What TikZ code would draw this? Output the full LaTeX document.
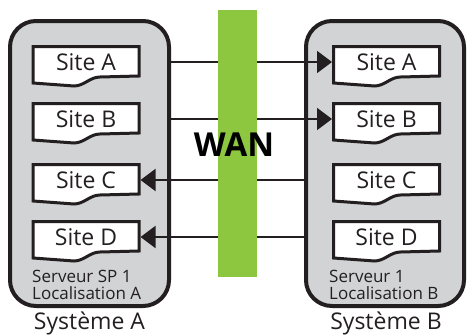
\documentclass[tikz,border=0pt]{standalone}
\usepackage{fontspec}
\setmainfont{Open Sans}
\usetikzlibrary{arrows.meta}

\definecolor{ink}{HTML}{231F20}
\definecolor{servergray}{HTML}{D1D3D4}
\definecolor{wangreen}{HTML}{8DC63F}

\begin{document}
\begin{tikzpicture}[x=1pt, y=-1pt,
    server/.style={draw=ink, line width=4pt, fill=servergray, rounded corners=26pt, minimum height=285pt},
    doc/.style={draw=ink, line width=3pt, fill=white},
    site/.style={minimum width=106pt, minimum height=29.5pt, inner sep=0pt, outer sep=1.5pt, text=ink, font=\fontsize{23}{23}\selectfont},
    info/.style={align=left, inner sep=0pt, anchor=north west, text=ink, font=\fontsize{17}{17}\selectfont},
    sys/.style={inner sep=0pt, anchor=base, text=ink, font=\fontsize{23}{23}\selectfont},
    link/.style={draw=ink, line width=2pt, -{Triangle[length=15pt, width=22pt]}}]

  \useasboundingbox (0,0) rectangle (467,335);

  \node (sa) [server, minimum width=159pt] at (89.5,163.5) {};
  \node (sb) [server, minimum width=158pt] at (385,163.5) {};

  \foreach \side/\x in {l/86, r/386.5}
    \foreach \n/\y in {A/62, B/119, C/180, D/237} {
      \draw[doc] (\x-53,\y-15.5) -- (\x+53,\y-15.5) -- (\x+53,\y+14) -- (\x+14,\y+15)
        .. controls (\x+4,\y+15) and (\x-2,\y+24) .. (\x-12,\y+24) -- (\x-53,\y+21) -- cycle;
      \node (\side\n) [site] at (\x,\y) {Site \n};
    }

  \node (srva) [info] at (32,270) {Serveur SP 1\\Localisation A};
  \node (srvb) [info] at (329,270) {Serveur 1\\Localisation B};
  \node (sysa) [sys] at (89.5,329) {Système A};
  \node (sysb) [sys] at (386,329) {Système B};

  \draw[link] (sa.east |- lA) -- (rA);
  \draw[link] (sa.east |- lB) -- (rB);
  \draw[link] (sb.west |- rC) -- (lC);
  \draw[link] (sb.west |- rD) -- (lD);

  \node (bar) [fill=wangreen, minimum width=39pt, minimum height=267pt, inner sep=0pt] at (237.5,143.5) {};
  \node (wan) [font=\fontsize{33}{33}\selectfont\bfseries] at (234,145) {WAN};

\end{tikzpicture}
\end{document}
